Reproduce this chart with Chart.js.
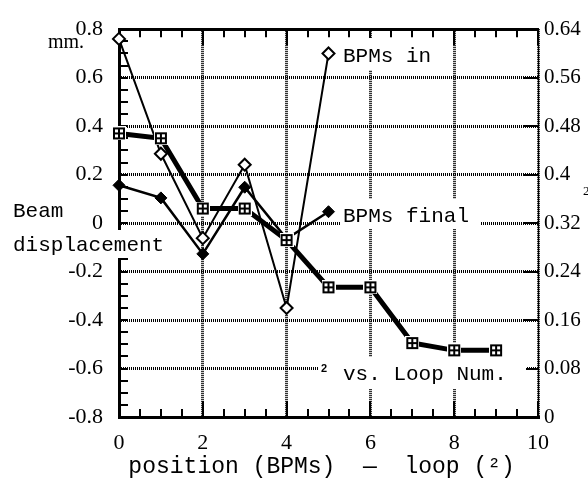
<!DOCTYPE html>
<html><head><meta charset="utf-8">
<script src="https://cdn.jsdelivr.net/npm/chart.js@4"></script>
<style>html,body{margin:0;padding:0;background:#fff;}#wrap{width:588px;height:480px;position:relative;}</style>
</head><body><div id="wrap"><canvas id="c" width="588" height="480"></canvas></div>
<script>
// ---- data ----
const bpmPositions = [0, 1, 2, 3, 4, 5];
const bpmsIn = [0.76, 0.286, -0.062, 0.241, -0.35, 0.70];
const bpmsFinal = [0.156, 0.104, -0.127, 0.148, -0.065, 0.047];
const loopNumbers = [0, 1, 2, 3, 4, 5, 6, 7, 8, 9];
const loopValues = [0.468, 0.460, 0.344, 0.344, 0.292, 0.214, 0.214, 0.122, 0.110, 0.110];
const xTickValues = [0, 2, 4, 6, 8, 10];
const xTickLabels = ['0', '2', '4', '6', '8', '10'];
const yTickValues = [-0.8, -0.6, -0.4, -0.2, 0, 0.2, 0.4, 0.6, 0.8];
const yTickLabels = ['-0.8', '-0.6', '-0.4', '-0.2', '0', '0.2', '0.4', '0.6', '0.8'];
const y2TickValues = [0, 0.08, 0.16, 0.24, 0.32, 0.4, 0.48, 0.56, 0.64];
const y2TickLabels = ['0', '0.08', '0.16', '0.24', '0.32', '0.4', '0.48', '0.56', '0.64'];
const xTitle = 'position (BPMs)  \u2014  loop (\u00b2) ';

const MONO = "'Liberation Mono', 'DejaVu Sans Mono', monospace";
const SERIF = "'Liberation Serif', 'DejaVu Serif', serif";

function squareIcon() {
  const c = document.createElement('canvas');
  c.width = 14; c.height = 14;
  const g = c.getContext('2d');
  g.fillStyle = '#fff'; g.fillRect(0, 0, 14, 14);
  g.fillStyle = '#000'; g.fillRect(1, 1, 12, 12);
  g.fillStyle = '#fff';
  g.fillRect(3, 3, 3, 3); g.fillRect(8, 3, 3, 3);
  g.fillRect(3, 8, 3, 3); g.fillRect(8, 8, 3, 3);
  return c;
}

const decorPlugin = {
  id: 'decor',
  beforeDatasetsDraw(chart) {
    const { ctx, chartArea: a, scales } = chart;
    const line = (x1, y1, x2, y2) => { ctx.beginPath(); ctx.moveTo(x1, y1); ctx.lineTo(x2, y2); ctx.stroke(); };
    ctx.save();
    ctx.strokeStyle = '#000';
    ctx.lineWidth = 2;
    // left axis inward ticks every 0.05
    for (let k = -16; k <= 16; k++) {
      const y = Math.round(scales.y.getPixelForValue(k * 0.05));
      line(a.left, y, a.left + 9, y);
    }
    // right axis inward ticks at labels
    y2TickValues.forEach(v => {
      const y = Math.round(scales.y2.getPixelForValue(v));
      line(a.right - 15, y, a.right, y);
    });
    // top/bottom inward ticks every 0.5
    for (let k = 0; k <= 20; k++) {
      const x = Math.round(scales.x.getPixelForValue(k * 0.5));
      const len = (k % 4 === 0) ? 16 : 8;
      line(x, a.bottom, x, a.bottom - len);
      line(x, a.top, x, a.top + len);
    }
    // white boxes behind labels
    ctx.fillStyle = '#fff';
    ctx.fillRect(339, 38, 102, 32);
    ctx.fillRect(341, 199, 140, 30);
    ctx.fillRect(318, 357, 208, 32);
    ctx.fillRect(8, 230, 164, 28);
    // texts
    ctx.fillStyle = '#000';
    ctx.textBaseline = 'middle';
    ctx.textAlign = 'left';
    ctx.font = '21px ' + MONO;
    ctx.fillText('BPMs in', 343, 56);
    ctx.fillText('BPMs final', 343, 216);
    ctx.fillText('vs. Loop Num.', 343, 374);
    ctx.fillText('Beam', 13, 211);
    ctx.fillText('displacement', 13, 245);
    ctx.font = 'bold 11px ' + "'Liberation Sans', sans-serif";
    ctx.fillText('2', 321, 369);
    ctx.font = '20px ' + SERIF;
    ctx.fillText('mm.', 48, 43);
    ctx.font = '13px ' + SERIF;
    ctx.fillText('2', 583, 192);
    ctx.restore();
  }
};

const gridBase = { color: '#000', lineWidth: 3, drawTicks: false };

new Chart(document.getElementById('c'), {
  type: 'line',
  data: {
    datasets: [
      {
        label: 'loop',
        data: loopNumbers.map((x, i) => ({ x, y: loopValues[i] })),
        yAxisID: 'y2', xAxisID: 'x',
        borderColor: '#000', borderWidth: 5, tension: 0,
        pointStyle: squareIcon(), pointRadius: 7,
        clip: false
      },
      {
        label: 'BPMs final',
        data: bpmPositions.map((x, i) => ({ x, y: bpmsFinal[i] })),
        yAxisID: 'y', xAxisID: 'x',
        borderColor: '#000', borderWidth: 2.5, tension: 0,
        pointStyle: 'rectRot', pointRadius: 6,
        pointBackgroundColor: '#000', pointBorderColor: '#000', pointBorderWidth: 1,
        clip: false
      },
      {
        label: 'BPMs in',
        data: bpmPositions.map((x, i) => ({ x, y: bpmsIn[i] })),
        yAxisID: 'y', xAxisID: 'x',
        borderColor: '#000', borderWidth: 2, tension: 0,
        pointStyle: 'rectRot', pointRadius: 6,
        pointBackgroundColor: '#fff', pointBorderColor: '#000', pointBorderWidth: 2,
        clip: false
      }
    ]
  },
  options: {
    responsive: false,
    animation: false,
    devicePixelRatio: 1,
    layout: { padding: 0 },
    plugins: { legend: { display: false }, tooltip: { enabled: false } },
    scales: {
      x: {
        type: 'linear', position: 'bottom', min: 0, max: 10,
        afterBuildTicks: s => { s.ticks = xTickValues.map(v => ({ value: v })); },
        afterFit: s => { s.height = 63; },
        ticks: {
          callback: (v, i) => xTickLabels[i], color: '#000', padding: 13,
          font: { family: SERIF, size: 22 }, maxRotation: 0, autoSkip: false
        },
        grid: gridBase,
        border: { display: true, color: '#000', width: 3, dash: [1, 1] },
        title: {
          display: true, text: xTitle, color: '#000',
          font: { family: MONO, size: 23, lineHeight: 1 }, padding: { top: 0, bottom: 2 }
        }
      },
      x2: {
        type: 'linear', position: 'top', min: 0, max: 10,
        afterFit: s => { s.height = 22; },
        ticks: { display: false },
        grid: { display: false, drawTicks: false },
        border: { display: true, color: '#000', width: 3 }
      },
      y: {
        type: 'linear', position: 'left', min: -0.8, max: 0.8,
        afterBuildTicks: s => { s.ticks = yTickValues.map(v => ({ value: v })); },
        afterFit: s => { s.width = 119; },
        ticks: {
          callback: (v, i) => yTickLabels[i], color: '#000', padding: 16,
          font: { family: SERIF, size: 22 }
        },
        grid: gridBase,
        border: { display: true, color: '#000', width: 3, dash: [1, 1] }
      },
      y2: {
        type: 'linear', position: 'right', min: 0, max: 0.64,
        afterBuildTicks: s => { s.ticks = y2TickValues.map(v => ({ value: v })); },
        afterFit: s => { s.width = 50; },
        ticks: {
          callback: (v, i) => y2TickLabels[i], color: '#000', padding: 6,
          font: { family: SERIF, size: 21 }
        },
        grid: { display: false, drawTicks: false },
        border: { display: true, color: '#000', width: 1 }
      }
    }
  },
  plugins: [decorPlugin]
});
</script>
</body></html>
